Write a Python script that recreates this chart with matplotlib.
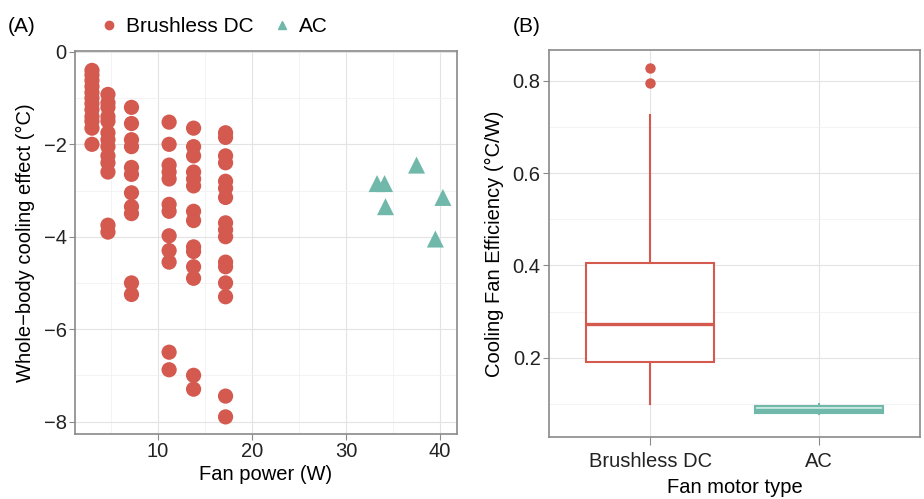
import numpy as np
import matplotlib.pyplot as plt
from matplotlib.lines import Line2D
from matplotlib.ticker import MultipleLocator

plt.rcParams['font.family'] = ['Liberation Sans', 'DejaVu Sans']

# (A) fan power vs whole-body cooling effect
dc_power = [3.0, 4.7, 7.2, 11.2, 13.8, 17.2]
dc_effect = [
    [-0.4, -0.5, -0.62, -0.75, -0.88, -1.0, -1.12, -1.25, -1.4, -1.5, -1.65, -2.0],
    [-0.92, -1.1, -1.2, -1.4, -1.5, -1.75, -1.9, -2.05, -2.25, -2.4, -2.6, -3.75, -3.9],
    [-1.2, -1.55, -1.9, -2.05, -2.5, -2.65, -3.05, -3.35, -3.5, -5.0, -5.25],
    [-1.52, -2.0, -2.45, -2.6, -2.75, -3.3, -3.45, -3.98, -4.3, -4.55, -6.5, -6.88],
    [-1.65, -2.05, -2.25, -2.6, -2.75, -2.9, -3.45, -3.65, -4.22, -4.32, -4.65, -4.9, -7.0, -7.3],
    [-1.75, -1.85, -2.25, -2.4, -2.8, -2.95, -3.15, -3.7, -3.85, -4.0, -4.55, -4.65, -5.0, -5.3, -7.45, -7.9],
]
ac_power = [33.3, 34.1, 37.5, 40.3, 34.2, 39.5]
ac_effect = [-2.85, -2.85, -2.45, -3.15, -3.35, -4.05]

# (B) cooling fan efficiency summary per motor type
motor_types = ['Brushless DC', 'AC']
eff_whislo = [0.10, 0.078]
eff_q1 = [0.19, 0.080]
eff_med = [0.274, 0.087]
eff_q3 = [0.405, 0.095]
eff_whishi = [0.726, 0.10]
eff_fliers = [[0.795, 0.828], []]

red = '#d4594f'
teal = '#70b8aa'
spine_col = '#8a8a8a'


def style_axes(ax):
    for s in ax.spines.values():
        s.set_color(spine_col)
        s.set_linewidth(1.2)
    ax.grid(which='major', color='#e3e3e3', lw=0.8)
    ax.grid(which='minor', color='#f1f1f1', lw=0.6)
    ax.set_axisbelow(True)
    ax.tick_params(which='major', length=4, color=spine_col, labelsize=14.5,
                   labelcolor='#222222', pad=2)
    ax.tick_params(which='minor', length=0)


fig = plt.figure(figsize=(9.24, 4.99), dpi=100)
axA = fig.add_axes([0.0812, 0.1303, 0.4134, 0.7675])
axB = fig.add_axes([0.5942, 0.1242, 0.4015, 0.7756])

# panel A
xs = np.concatenate([[p] * len(v) for p, v in zip(dc_power, dc_effect)])
ys = np.concatenate(dc_effect)
axA.scatter(xs, ys, s=120, color=red, edgecolors='none', zorder=3)
axA.scatter(ac_power, ac_effect, s=150, marker='^', color=teal, edgecolors='none', zorder=3)
axA.set_xlim(1.2, 41.8)
axA.set_ylim(-8.27, 0.02)
axA.set_xticks([10, 20, 30, 40])
axA.set_yticks([-8, -6, -4, -2, 0])
axA.xaxis.set_minor_locator(MultipleLocator(5))
axA.yaxis.set_minor_locator(MultipleLocator(1))
style_axes(axA)
axA.set_xlabel('Fan power (W)', fontsize=14.5, labelpad=3)
axA.set_ylabel('Whole\u2212body cooling effect (°C)', fontsize=14.5, labelpad=6)

# panel B
stats = []
for i in range(len(motor_types)):
    stats.append(dict(whislo=eff_whislo[i], q1=eff_q1[i], med=eff_med[i],
                      q3=eff_q3[i], whishi=eff_whishi[i], fliers=eff_fliers[i]))
for i, col in enumerate([red, teal]):
    axB.bxp([stats[i]], positions=[i + 1], widths=0.76, showcaps=False,
            patch_artist=True,
            boxprops=dict(facecolor='white' if i == 0 else '#cdeae4', edgecolor=col, lw=1.5),
            medianprops=dict(color=col, lw=2.4),
            whiskerprops=dict(color=col, lw=1.5),
            flierprops=dict(marker='o', markersize=7.5, markerfacecolor=col,
                            markeredgecolor='none'))
axB.set_xlim(0.4, 2.6)
axB.set_ylim(0.028, 0.867)
axB.set_xticks([1, 2])
axB.set_xticklabels(motor_types)
axB.set_yticks([0.2, 0.4, 0.6, 0.8])
axB.yaxis.set_minor_locator(MultipleLocator(0.1))
style_axes(axB)
axB.tick_params(axis='x', length=6, pad=5)
axB.set_xlabel('Fan motor type', fontsize=14.5, labelpad=5)
axB.set_ylabel('Cooling Fan Efficiency (°C/W)', fontsize=14.5, labelpad=6)

# panel tags and legend
fig.text(8 / 924, 1 - 27 / 499, '(A)', fontsize=15, va='center', ha='left')
fig.text(513 / 924, 1 - 27 / 499, '(B)', fontsize=15, va='center', ha='left')
handles = [
    Line2D([], [], marker='o', ls='none', color=red, markersize=6, label='Brushless DC'),
    Line2D([], [], marker='^', ls='none', color=teal, markersize=6, label='AC'),
]
fig.legend(handles=handles, loc='center left', bbox_to_anchor=(86 / 924, 1 - 27 / 499),
           ncol=2, frameon=False, fontsize=15, handletextpad=0.2, columnspacing=0.8,
           handlelength=1.2, borderpad=0)

fig.savefig('out.png', dpi=100)
